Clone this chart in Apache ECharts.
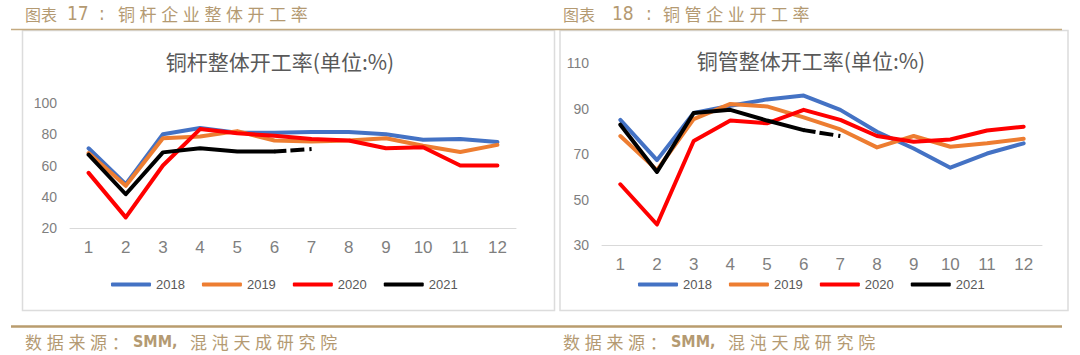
<!DOCTYPE html>
<html>
<head>
<meta charset="utf-8">
<script src="https://cdn.jsdelivr.net/npm/echarts@6/dist/echarts.min.js"></script>
<style>
  html, body { margin: 0; padding: 0; background: #fff; }
  #wrap { position: relative; width: 1080px; height: 355px; }
  #chart { position: absolute; left: 0; top: 0; width: 1080px; height: 355px; }
  .t { position: absolute; font-family: "Noto Sans CJK SC", sans-serif; color: #b49a72; white-space: nowrap; line-height: 1; }
  .h { font-size: 16px; top: 6px; }
  .hw { font-size: 17px; top: 5px; letter-spacing: 4.6px; }
  .hd { font-family: "DejaVu Sans Condensed", "DejaVu Sans", sans-serif; font-size: 19px; top: 4px; }
  .f { font-size: 17px; top: 333px; letter-spacing: 4.7px; }
  .fl { font-family: "DejaVu Sans Condensed", "DejaVu Sans", sans-serif; font-weight: bold; font-size: 16px; top: 334px; letter-spacing: 0; }
</style>
</head>
<body>
<div id="wrap">
  <div id="chart"></div>
  <!-- headers -->
  <div class="t h" style="left:25px;">图表</div>
  <div class="t hd" style="left:67px;">17</div>
  <div class="t hd" style="left:99px;">:</div>
  <div class="t hw" style="left:118px;">铜杆企业整体开工率</div>
  <div class="t h" style="left:563px;">图表</div>
  <div class="t hd" style="left:612px;">18</div>
  <div class="t hd" style="left:646px;">:</div>
  <div class="t hw" style="left:663px;">铜管企业开工率</div>
  <!-- footers -->
  <div class="t f" style="left:25px;">数据来源：</div>
  <div class="t fl" style="left:133px;">SMM,</div>
  <div class="t f" style="left:190px;">混沌天成研究院</div>
  <div class="t f" style="left:563px;">数据来源：</div>
  <div class="t fl" style="left:671px;">SMM,</div>
  <div class="t f" style="left:728px;">混沌天成研究院</div>
</div>
<script>
const months = ['1','2','3','4','5','6','7','8','9','10','11','12'];
const years = ['2018','2019','2020','2021'];

// 铜杆整体开工率
const rod2018 = [71, 48, 80, 84, 81, 81, 81.5, 81.5, 80, 76.5, 77, 75];
const rod2019 = [68, 47, 77.4, 78.5, 82, 76, 75.3, 76, 77.4, 72.6, 68.6, 73.2];
const rod2020 = [55.3, 26.8, 60, 83.3, 80.6, 79, 77, 76, 71, 71.7, 60, 60];
const rod2021 = [66.9, 41.6, 68.4, 71, 69, 69];
const rod2021Dash = [null, null, null, null, null, 69, 70.5];

// 铜管整体开工率
const tube2018 = [85, 67.3, 88, 91.2, 94, 95.7, 89.4, 79.8, 72.4, 64, 70.2, 74.7];
const tube2019 = [77.9, 62.9, 85.3, 92, 90.9, 86.1, 80.8, 72.9, 77.9, 73.2, 74.7, 76.7];
const tube2020 = [56.7, 39, 75.7, 84.7, 83.5, 89.4, 85, 77.9, 75.4, 76.4, 80.3, 82];
const tube2021 = [82.9, 62.1, 88, 89.4, 84.7, 80.5];
const tube2021Dash = [null, null, null, null, null, 80.5, 77.9];

const rodTicks = [20, 40, 60, 80, 100];
const tubeTicks = [30, 50, 70, 90, 110];

const colors = ['#4472C4', '#ED7D31', '#FF0000', '#000000'];
const gray = '#7f7f7f';

function lineSeries(name, data, gi, color, dash) {
  return {
    name: name, type: 'line', xAxisIndex: gi, yAxisIndex: gi, data: data,
    showSymbol: false, symbol: 'none', smooth: false, connectNulls: false,
    color: color,
    lineStyle: dash ? { width: 4, color: color, type: [12, 4, 14, 5, 3, 30], cap: 'butt' }
                    : { width: 4, color: color, cap: 'round', join: 'round' },
    emphasis: { disabled: true }, animation: false
  };
}

const chart = echarts.init(document.getElementById('chart'), null, { renderer: 'svg' });
const legendBase = {
  data: years, padding: 0, icon: 'roundRect', itemWidth: 40, itemHeight: 4, itemGap: 17,
  textStyle: { fontSize: 13, color: '#595959', fontFamily: 'Liberation Sans, Arial, sans-serif' },
  selectedMode: false
};
chart.setOption({
  animation: false,
  textStyle: { fontFamily: '"Noto Sans CJK SC", sans-serif' },
  title: [
    { text: '铜杆整体开工率(单位:%)', left: 280, top: 50, textAlign: 'center', padding: 0,
      textStyle: { fontSize: 21, fontWeight: 'normal', color: '#595959' } },
    { text: '铜管整体开工率(单位:%)', left: 811, top: 49, textAlign: 'center', padding: 0,
      textStyle: { fontSize: 21, fontWeight: 'normal', color: '#595959' } }
  ],
  legend: [
    Object.assign({ left: 111, top: 278 }, legendBase),
    Object.assign({ left: 638, top: 278 }, legendBase)
  ],
  grid: [
    { left: 70, top: 103, width: 446, height: 125 },
    { left: 602, top: 63, width: 440, height: 182 }
  ],
  xAxis: [0, 1].map(i => ({
    type: 'category', gridIndex: i, data: months, boundaryGap: true,
    axisTick: { show: false },
    axisLine: { lineStyle: { color: '#d9d9d9', width: 1 } },
    axisLabel: { fontSize: 17, color: gray, margin: 11, fontFamily: 'Liberation Sans, Arial, sans-serif' },
    splitLine: { show: false }
  })),
  yAxis: [
    { type: 'value', gridIndex: 0, min: 20, max: 100, interval: 20,
      axisLine: { show: false }, axisTick: { show: false }, splitLine: { show: false },
      axisLabel: { fontSize: 14, color: gray, margin: 13, customValues: rodTicks, fontFamily: 'Liberation Sans, Arial, sans-serif' } },
    { type: 'value', gridIndex: 1, min: 30, max: 110,
      axisLine: { show: false }, axisTick: { show: false }, splitLine: { show: false },
      axisLabel: { fontSize: 14, color: gray, margin: 13, customValues: tubeTicks, fontFamily: 'Liberation Sans, Arial, sans-serif' } }
  ],
  graphic: [
    { type: 'rect', shape: { x: 22.5, y: 30.5, width: 532, height: 280 }, style: { fill: 'none', stroke: '#dcdcdc', lineWidth: 1.5 }, silent: true, z: -1 },
    { type: 'rect', shape: { x: 560, y: 30.5, width: 508, height: 280 }, style: { fill: 'none', stroke: '#dcdcdc', lineWidth: 1.5 }, silent: true, z: -1 },
    { type: 'line', shape: { x1: 11, y1: 29.5, x2: 1062, y2: 29.5 }, style: { stroke: '#c4aa80', lineWidth: 1.5 }, silent: true },
    { type: 'line', shape: { x1: 11, y1: 326.5, x2: 1062, y2: 326.5 }, style: { stroke: '#b99c6e', lineWidth: 2.5 }, silent: true }
  ],
  series: [
    lineSeries('2018', rod2018, 0, colors[0]),
    lineSeries('2019', rod2019, 0, colors[1]),
    lineSeries('2020', rod2020, 0, colors[2]),
    lineSeries('2021', rod2021, 0, colors[3]),
    lineSeries('2021', rod2021Dash, 0, colors[3], true),
    lineSeries('2018', tube2018, 1, colors[0]),
    lineSeries('2019', tube2019, 1, colors[1]),
    lineSeries('2020', tube2020, 1, colors[2]),
    lineSeries('2021', tube2021, 1, colors[3]),
    lineSeries('2021', tube2021Dash, 1, colors[3], true)
  ]
});
</script>
</body>
</html>
